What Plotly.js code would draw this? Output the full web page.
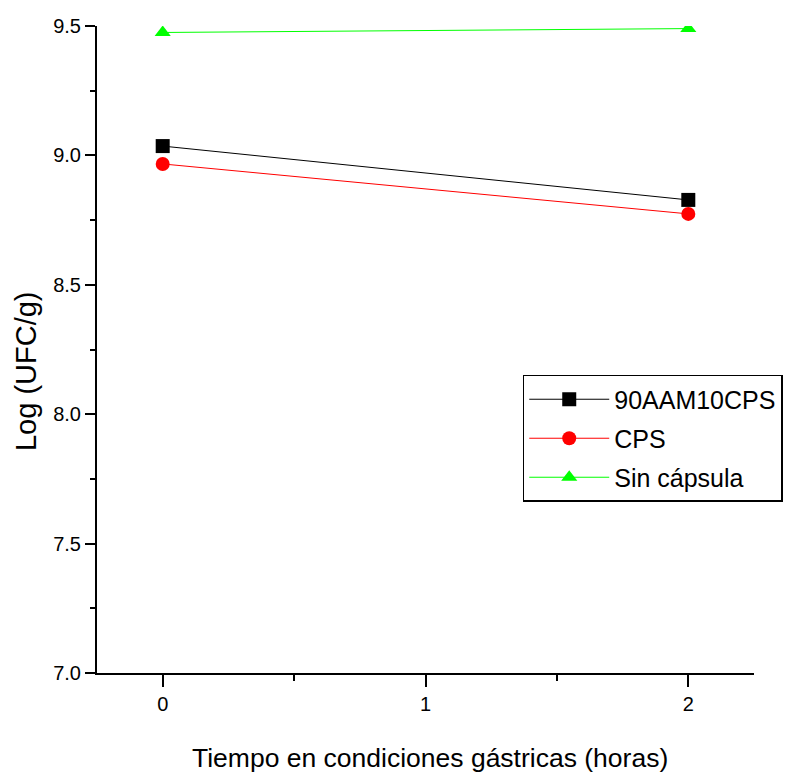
<!DOCTYPE html>
<html>
<head>
<meta charset="utf-8">
<script src="https://cdn.plot.ly/plotly-3.0.1.min.js"></script>
<style>html,body{margin:0;padding:0;background:#fff;}#chart{width:798px;height:773px;}</style>
</head>
<body>
<div id="chart"></div>
<script>
const hours = [0, 2];
const seriesNames = ['90AAM10CPS', 'CPS', 'Sin cápsula'];
const val90AAM10CPS = [9.036, 8.828];
const valCPS = [8.967, 8.774];
const valSinCapsula = [9.475, 9.49];
const xTickVals = [0, 1, 2];
const xTickText = ['0', '1', '2'];
const xTitle = 'Tiempo en condiciones gástricas (horas)';
const yTitle = 'Log (UFC/g)';

const FONT = 'Liberation Sans, Arial, sans-serif';

const styles = [
  {color: '#000000', symbol: 'square'},
  {color: '#ff0000', symbol: 'circle'},
  {color: '#00ff00', symbol: 'triangle-up'}
];
const values = [val90AAM10CPS, valCPS, valSinCapsula];

const traces = values.map((v, i) => ({
  x: hours,
  y: v,
  name: seriesNames[i],
  legendgroup: 'g' + i,
  type: 'scatter',
  mode: 'lines+markers',
  line: {color: styles[i].color, width: 1},
  marker: {color: styles[i].color, symbol: styles[i].symbol, size: 14, line: {width: 0}},
  cliponaxis: true
}));

const layout = {
  width: 798,
  height: 773,
  margin: {l: 97, r: 44, t: 26, b: 100, pad: 0, autoexpand: false},
  paper_bgcolor: '#ffffff',
  plot_bgcolor: '#ffffff',
  font: {family: FONT, color: '#000000', size: 20},
  showlegend: true,
  legend: {
    x: 0.648, xanchor: 'left',
    y: 0.4606, yanchor: 'top',
    bordercolor: '#000000', borderwidth: 1.5,
    bgcolor: '#ffffff',
    font: {family: FONT, size: 25, color: '#000000'},
    itemwidth: 80,
    tracegroupgap: 3.5
  },
  xaxis: {
    range: [-0.25, 2.25],
    tickvals: xTickVals,
    ticktext: xTickText,
    ticks: 'outside', ticklen: 12, tickwidth: 2, tickcolor: '#000000',
    showline: true, linecolor: '#000000', linewidth: 2,
    showgrid: false, zeroline: false, mirror: false,
    tickfont: {family: FONT, size: 20},
    minor: {dtick: 0.5, ticks: 'outside', ticklen: 6, tickwidth: 2, tickcolor: '#000000', showgrid: false}
  },
  yaxis: {
    range: [7.0, 9.5],
    dtick: 0.5, tick0: 7,
    tickformat: '.1f',
    ticks: 'outside', ticklen: 10, tickwidth: 2, tickcolor: '#000000',
    showline: true, linecolor: '#000000', linewidth: 2,
    showgrid: false, zeroline: false, mirror: false,
    tickfont: {family: FONT, size: 20},
    minor: {dtick: 0.25, ticks: 'outside', ticklen: 5, tickwidth: 2, tickcolor: '#000000', showgrid: false}
  },
  annotations: [
    {text: xTitle, xref: 'paper', yref: 'paper', x: 0.507, y: -0.132, xanchor: 'center', yanchor: 'middle',
     showarrow: false, font: {family: FONT, size: 26.5, color: '#000000'}},
    {text: yTitle, xref: 'paper', yref: 'paper', x: -0.108, y: 0.4668, xanchor: 'center', yanchor: 'middle',
     textangle: -90, showarrow: false, font: {family: FONT, size: 29, color: '#000000'}}
  ]
};

Plotly.newPlot('chart', traces, layout, {displayModeBar: false, staticPlot: true});
</script>
</body>
</html>
